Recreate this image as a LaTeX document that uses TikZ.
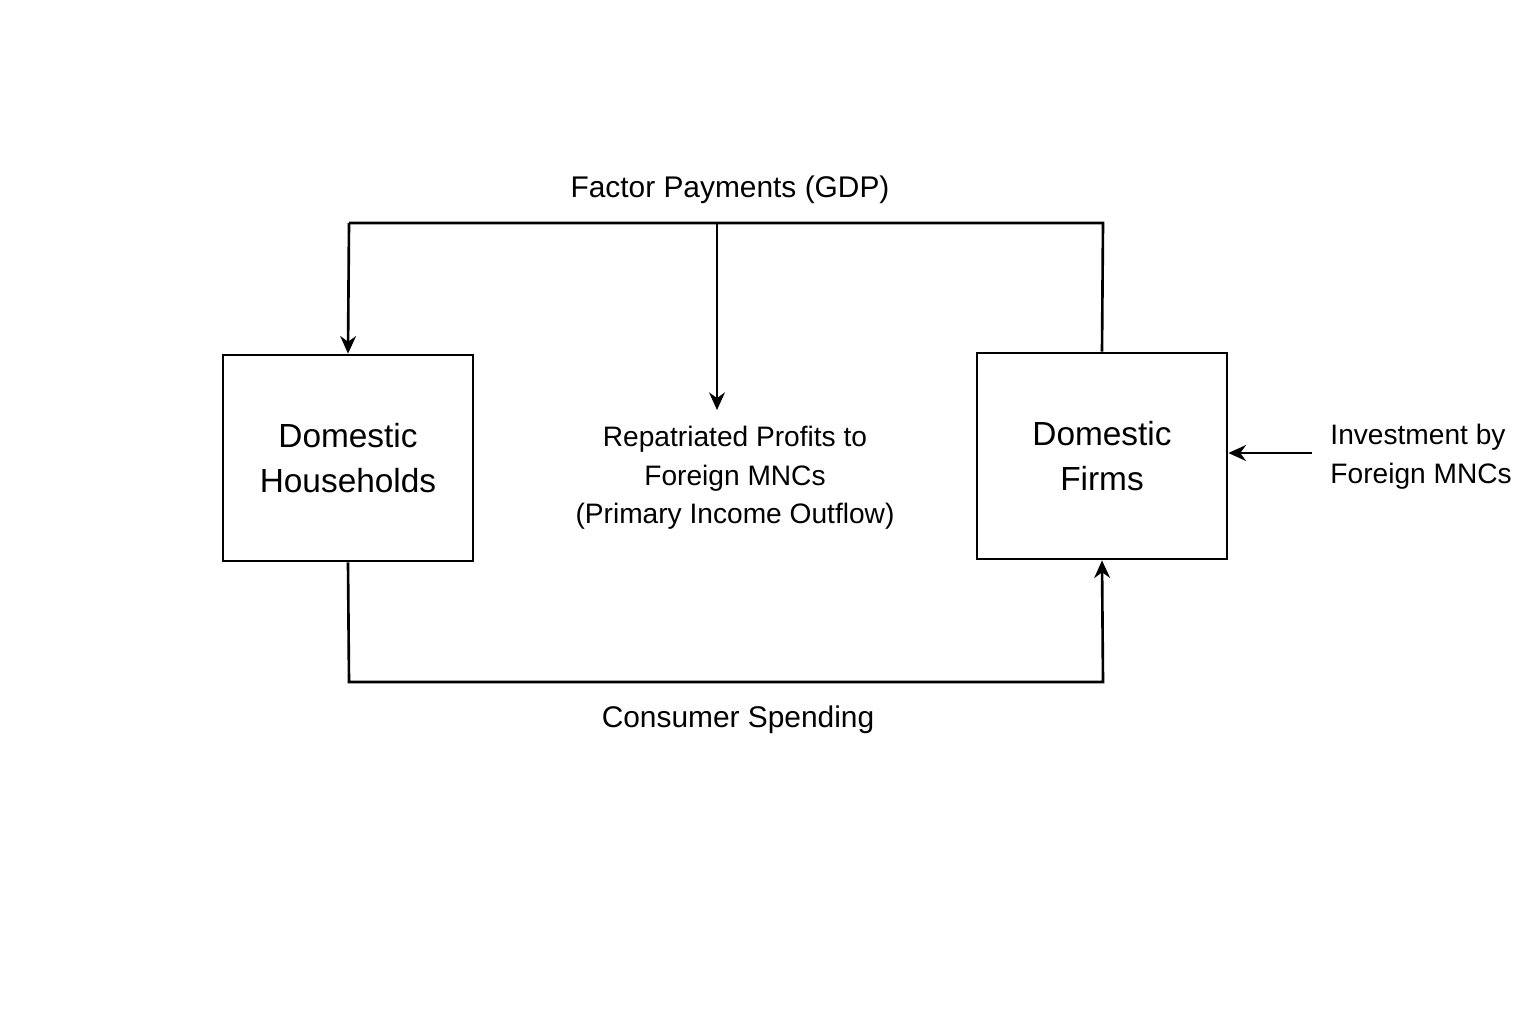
\documentclass[tikz,border=0pt]{standalone}
\usepackage{fontspec}
\setmainfont{Liberation Sans}
\usetikzlibrary{positioning,arrows.meta}
\begin{document}
\begin{tikzpicture}[x=0.01cm,y=-0.01cm,
  flow/.style={line width=0.75pt,-{Stealth[length=5pt,width=4.5pt]}},
  link/.style={line width=0.75pt},
  sector/.style={draw,line width=0.75pt,minimum width=2.5cm,minimum height=2.06cm,align=center,font=\fontsize{9.5}{13}\selectfont},
  lbl/.style={align=center,font=\fontsize{8.5}{11}\selectfont}]
\useasboundingbox (0,0) rectangle (1536,1024);
% sectors
\node[sector] (hh) at (348,458) {Domestic\\Households};
\node[sector] (firms) at (1102,456) {Domestic\\Firms};
% corners of the loop
\coordinate (tl) at (349,223);
\coordinate (tr) at (1103,223);
\coordinate (tm) at (717,223);
\coordinate (bl) at (349,682);
\coordinate (br) at (1103,682);
\coordinate (rp) at (717,410);
\coordinate (inv) at (1312,453);
% factor payments
\draw[link] (firms.north) -- (tr) -- (tl);
\draw[flow] (tl) -- (hh.north);
\draw[flow] (tm) -- (rp);
\node[lbl] (fp) at (730,190) {Factor Payments (GDP)};
\node[lbl,font=\fontsize{8}{11}\selectfont] (rep) at (735,478) {Repatriated Profits to\\Foreign MNCs\\(Primary Income Outflow)};
% consumer spending
\draw[flow] (hh.south) -- (bl) -- (br) -- (firms.south);
\node[lbl] (cs) at (738,720) {Consumer Spending};
% foreign investment
\draw[flow] (inv) -- (firms.east |- inv);
\node[lbl,align=left,anchor=west,font=\fontsize{8}{11}\selectfont] (fi) at (1318,457) {Investment by\\Foreign MNCs};
\end{tikzpicture}
\end{document}
